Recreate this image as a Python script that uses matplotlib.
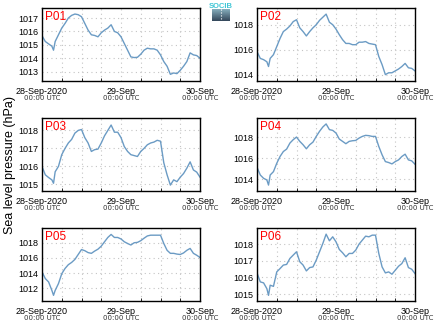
import matplotlib
matplotlib.use('Agg')
import matplotlib.pyplot as plt
import matplotlib.dates as mdates
import matplotlib.transforms as mtransforms
import numpy as np
import pandas as pd

plt.rcParams['font.family'] = ['Liberation Sans', 'DejaVu Sans']

# hours since 28-Sep-2020 00:00 UTC
hours = [0, 1, 2, 3, 3.5] + list(range(4, 49))

p01 = [1015.68, 1015.25, 1015.07, 1014.9, 1014.6, 1015.25, 1015.75, 1016.25, 1016.6, 1017.0,
       1017.2, 1017.3, 1017.25, 1017.1, 1016.6, 1016.1, 1015.75, 1015.7, 1015.6, 1015.9,
       1016.1, 1016.25, 1016.5, 1016.0, 1015.9, 1015.6, 1015.1, 1014.6, 1014.1, 1014.05,
       1014.07, 1014.3, 1014.6, 1014.75, 1014.7, 1014.7, 1014.6, 1014.25, 1013.75, 1013.4,
       1012.8, 1012.9, 1012.85, 1013.1, 1013.4, 1013.75, 1014.4, 1014.25, 1014.2, 1014.0]
p02 = [1015.85, 1015.3, 1015.2, 1015.03, 1014.65, 1015.3, 1015.6, 1016.25, 1016.9, 1017.45,
       1017.65, 1017.9, 1018.25, 1018.4, 1017.75, 1017.45, 1017.1, 1017.45, 1017.75, 1018.0,
       1018.35, 1018.6, 1018.85, 1018.2, 1018.0, 1017.65, 1017.2, 1016.8, 1016.5, 1016.5,
       1016.4, 1016.4, 1016.6, 1016.6, 1016.65, 1016.5, 1016.45, 1016.4, 1015.45, 1014.8,
       1014.0, 1014.15, 1014.15, 1014.3, 1014.45, 1014.65, 1014.9, 1014.55, 1014.5, 1014.3]
p03 = [1016.0, 1015.53, 1015.38, 1015.25, 1015.06, 1015.7, 1016.0, 1016.65, 1017.0, 1017.3,
       1017.5, 1017.85, 1018.0, 1018.05, 1017.6, 1017.3, 1016.83, 1016.93, 1016.96, 1017.3,
       1017.7, 1018.0, 1018.3, 1017.9, 1017.9, 1017.6, 1017.1, 1016.83, 1016.65, 1016.6,
       1016.55, 1016.83, 1017.0, 1017.2, 1017.3, 1017.35, 1017.45, 1017.4, 1016.2, 1015.53,
       1014.96, 1015.25, 1015.15, 1015.4, 1015.6, 1015.9, 1016.25, 1015.8, 1015.68, 1015.4]
p04 = [1015.14, 1014.41, 1014.1, 1013.94, 1013.46, 1014.41, 1014.73, 1015.52, 1016.16, 1016.63,
       1016.86, 1017.43, 1017.75, 1018.0, 1017.59, 1017.27, 1016.89, 1017.27, 1017.52, 1018.06,
       1018.54, 1018.95, 1019.24, 1018.7, 1018.63, 1018.38, 1017.81, 1017.59, 1017.37, 1017.59,
       1017.65, 1017.68, 1017.9, 1018.06, 1018.16, 1018.13, 1018.06, 1018.06, 1017.11, 1016.32,
       1015.68, 1015.59, 1015.46, 1015.68, 1015.84, 1016.16, 1016.38, 1015.84, 1015.75, 1015.43]
p05 = [1014.15, 1013.27, 1012.82, 1011.7, 1011.05, 1011.7, 1012.6, 1013.9, 1014.6, 1015.1,
       1015.4, 1015.8, 1016.45, 1017.1, 1016.95, 1016.7, 1016.6, 1016.9, 1017.15, 1017.55,
       1018.13, 1018.7, 1019.1, 1018.7, 1018.7, 1018.5, 1018.13, 1017.9, 1017.7, 1018.0,
       1018.05, 1018.27, 1018.6, 1018.9, 1019.0, 1019.0, 1019.0, 1019.0, 1017.9, 1017.0,
       1016.6, 1016.6, 1016.5, 1016.45, 1016.65, 1017.0, 1017.25, 1016.6, 1016.35, 1016.05]
p06 = [1016.27, 1015.73, 1015.67, 1015.32, 1014.92, 1015.53, 1015.46, 1016.33, 1016.53, 1016.74,
       1016.78, 1017.14, 1017.34, 1017.54, 1016.94, 1016.74, 1016.39, 1016.59, 1016.63, 1017.04,
       1017.54, 1018.04, 1018.6, 1018.2, 1018.44, 1018.14, 1017.68, 1017.48, 1017.24, 1017.44,
       1017.44, 1017.64, 1018.0, 1018.24, 1018.48, 1018.44, 1018.54, 1018.54, 1017.44, 1016.63,
       1016.27, 1016.33, 1016.19, 1016.43, 1016.67, 1016.83, 1017.18, 1016.59, 1016.49, 1016.23]

names = ['P01', 'P02', 'P03', 'P04', 'P05', 'P06']
series = [p01, p02, p03, p04, p05, p06]
ylims = [(1012.3, 1017.75), (1013.49, 1019.34), (1014.63, 1018.69),
         (1012.9, 1019.8), (1010.3, 1019.95), (1014.58, 1018.97)]
yticks = [[1013, 1014, 1015, 1016, 1017], [1014, 1016, 1018], [1015, 1016, 1017, 1018],
          [1014, 1016, 1018], [1012, 1014, 1016, 1018], [1015, 1016, 1017, 1018]]
tick_top = ['28-Sep-2020', '29-Sep', '30-Sep']

start = pd.Timestamp('2020-09-28 00:00')
times = [start + pd.Timedelta(hours=h) for h in hours]
xticks = [start, start + pd.Timedelta(days=1), start + pd.Timedelta(days=2)]

W, H = 434, 327
fig = plt.figure(figsize=(W / 100, H / 100), dpi=100)

lefts = [42, 257]
tops = [8, 118, 228]
aw, ah = 158, 73

for i, (name, vals) in enumerate(zip(names, series)):
    col = i % 2
    row = i // 2
    ax = fig.add_axes([lefts[col] / W, 1 - (tops[row] + ah) / H, aw / W, ah / H])
    ax.plot(times, vals, color='#6b9bc4', lw=1.0)
    ax.set_xlim(xticks[0], xticks[-1])
    ax.set_ylim(*ylims[i])
    ax.set_yticks(yticks[i])
    ax.set_xticks(xticks)
    ax.set_xticklabels(tick_top, fontsize=6.5)
    ax.xaxis.set_minor_locator(mdates.HourLocator(byhour=[6, 12, 18]))
    ax.tick_params(axis='both', which='both', direction='in', length=2, width=0.6)
    ax.tick_params(axis='x', which='major', length=0, pad=4)
    ax.tick_params(axis='y', labelsize=6.5, pad=2.5, length=0)
    ax.grid(True, which='both', axis='x', color='#c4c4c4', ls=(0, (1, 3)), lw=0.8)
    ax.grid(True, which='major', axis='y', color='#c4c4c4', ls=(0, (1, 3)), lw=0.8)
    for s in ax.spines.values():
        s.set_linewidth(1.0)
    ax.text(0.02, 0.96, name, transform=ax.transAxes, color='red', fontsize=8.5,
            va='top', ha='left')
    trans = mtransforms.blended_transform_factory(ax.transData, ax.transAxes)
    for xt in xticks:
        ax.text(xt, -0.235, '00:00 UTC', transform=trans, fontsize=5.0, color='#333333',
                ha='center', va='center', family='DejaVu Sans')

fig.text(10 / W, 1 - 165 / H, 'Sea level pressure (hPa)', rotation=90, fontsize=9,
         ha='center', va='center')

# logo
lax = fig.add_axes([212 / W, 1 - 21 / H, 18 / W, 12 / H])
grad = np.linspace(0, 1, 50).reshape(-1, 1)
lax.imshow(grad, aspect='auto', cmap=matplotlib.colors.LinearSegmentedColormap.from_list(
    'logo', ['#86aebd', '#34475a']))
lax.plot([0.5, 0.5], [0.3, 49], color='white', ls=':', lw=0.8,
         transform=mtransforms.blended_transform_factory(lax.transAxes, lax.transData))
lax.set_xlim(-0.5, 0.5)
lax.axis('off')
fig.text(220.5 / W, 1 - 6 / H, 'SOCIB', color='#3fc6d6', fontsize=5.5, ha='center',
         va='center', fontweight='bold')

fig.savefig('out.png', dpi=100)
